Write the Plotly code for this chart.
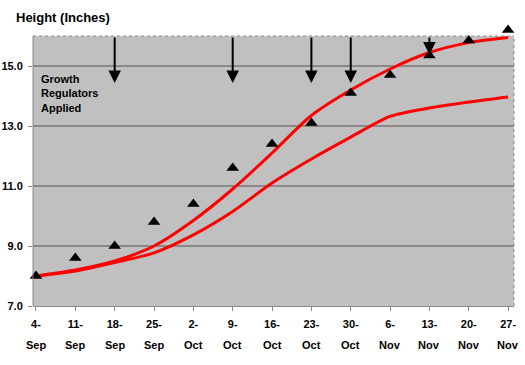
import plotly.graph_objects as go

days = ["4-", "11-", "18-", "25-", "2-", "9-", "16-", "23-", "30-", "6-", "13-", "20-", "27-"]
months = ["Sep", "Sep", "Sep", "Sep", "Oct", "Oct", "Oct", "Oct", "Oct", "Nov", "Nov", "Nov", "Nov"]
observed = [8.0, 8.6, 9.0, 9.8, 10.4, 11.6, 12.4, 13.1, 14.1, 14.7, 15.35, 15.85, 16.2]
upper_curve = [8.0, 8.2, 8.5, 9.0, 9.85, 10.9, 12.1, 13.35, 14.2, 14.9, 15.45, 15.78, 15.95]
lower_curve = [8.0, 8.17, 8.45, 8.77, 9.37, 10.15, 11.1, 11.9, 12.63, 13.32, 13.6, 13.8, 13.97]
application_idx = [2, 5, 7, 8, 10]
application_tip = [14.43, 14.43, 14.43, 14.43, 15.38]
yticks = [7.0, 9.0, 11.0, 13.0, 15.0]
y_min, y_max = 7.0, 16.0

x = list(range(len(days)))
FONT = "Liberation Sans, Arial, sans-serif"
GRID = "#8c8888"

fig = go.Figure()
fig.add_trace(go.Scatter(x=x, y=upper_curve, mode="lines", line=dict(color="#ff0000", width=3, shape="spline", smoothing=0.8), showlegend=False))
fig.add_trace(go.Scatter(x=x, y=lower_curve, mode="lines", line=dict(color="#ff0000", width=3, shape="spline", smoothing=0.8), showlegend=False))
fig.add_trace(go.Scatter(x=x, y=observed, mode="markers", marker=dict(symbol="triangle-up", size=11, color="black"), cliponaxis=False, showlegend=False))

for i, tip in zip(application_idx, application_tip):
    fig.add_annotation(x=i, y=tip, ax=i, ay=y_max, xref="x", yref="y", axref="x", ayref="y",
                       showarrow=True, arrowhead=2, arrowsize=1.25, arrowwidth=2, arrowcolor="black", text="")

for i, m in enumerate(months):
    fig.add_annotation(x=i, y=-0.1368, xref="x", yref="paper", text=m, showarrow=False,
                       font=dict(family=FONT, size=11, color="black", weight="bold"), yanchor="middle")

fig.add_annotation(x=-0.0395, y=1.014, xref="paper", yref="paper", text="Height (Inches)", showarrow=False,
                   xanchor="left", yanchor="middle", font=dict(family=FONT, size=13, color="black", weight="bold"))
fig.add_annotation(x=0.0125, y=0.745, xref="paper", yref="paper", text="Growth<br>Regulators<br>Applied",
                   showarrow=False, xanchor="left", yanchor="middle", align="left",
                   font=dict(family=FONT, size=11, color="black", weight="bold"))

# grey plot area (bounded to 7..16) and its borders
fig.add_shape(type="rect", xref="paper", yref="y", x0=0, x1=1, y0=y_min, y1=y_max, fillcolor="#c0c0c0",
              line=dict(width=0), layer="below")
fig.add_shape(type="line", xref="paper", yref="y", x0=0, x1=1, y0=y_max, y1=y_max, line=dict(color="#8c8c8c", width=1, dash="dot"))
fig.add_shape(type="line", xref="paper", yref="y", x0=1, x1=1, y0=y_min, y1=y_max, line=dict(color="#8c8c8c", width=1, dash="dot"))
fig.add_shape(type="line", xref="paper", yref="y", x0=0, x1=0, y0=y_min, y1=y_max, line=dict(color="#8c8c8c", width=1))

fig.update_layout(
    width=525, height=365,
    margin=dict(l=33, r=11, t=21, b=59),
    paper_bgcolor="white", plot_bgcolor="white",
    font=dict(family=FONT, size=11, color="black"),
    xaxis=dict(range=[-0.076, 12.15], tickvals=x, ticktext=days, showgrid=False, zeroline=False, automargin=False,
               showline=True, linecolor="#8c8c8c", linewidth=1, ticks="outside", ticklen=4, tickcolor="#8c8c8c",
               ticklabelstandoff=4,
               tickfont=dict(family=FONT, size=11, color="black", weight="bold")),
    yaxis=dict(range=[y_min, 16.5], tickvals=yticks, ticktext=[f"{v:.1f}" for v in yticks], showgrid=True,
               gridcolor=GRID, gridwidth=2, zeroline=False, showline=False, automargin=False,
               ticks="outside", ticklen=4, tickcolor="#8c8c8c", ticklabelstandoff=3,
               tickfont=dict(family=FONT, size=11, color="black", weight="bold")),
)
fig.write_html("out.html", config={"displayModeBar": False}, post_script="document.body.style.margin='0px';")
